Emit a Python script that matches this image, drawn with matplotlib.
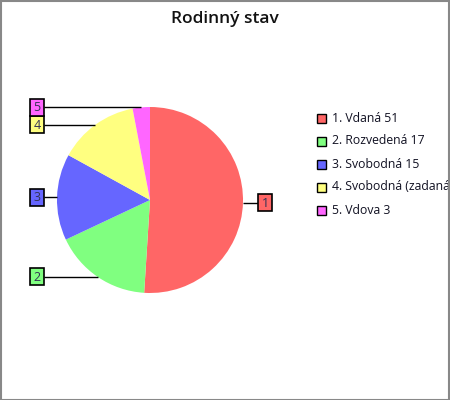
import numpy as np
import matplotlib
matplotlib.use("Agg")
import matplotlib.pyplot as plt
from matplotlib.patches import Rectangle

title = "Rodinný stav"
categories = ["Vdaná", "Rozvedená", "Svobodná", "Svobodná (zadaná)", "Vdova"]
values = [51, 17, 15, 14, 3]
colors = ["#FF6666", "#80FF80", "#6666FF", "#FFFF80", "#FF66FF"]

plt.rcParams['font.family'] = ['Open Sans', 'DejaVu Sans']

W, H = 450, 400
fig = plt.figure(figsize=(W / 100, H / 100), dpi=100)
ax = fig.add_axes([0, 0, 1, 1])

cx, cy, r = 150, 400 - 200, 93
wedges, _ = ax.pie(values, colors=colors, startangle=90, counterclock=False,
                   center=(cx, cy), radius=r,
                   wedgeprops=dict(linewidth=0, antialiased=True))
ax.set_xlim(0, W)
ax.set_ylim(0, H)
ax.set_aspect('equal')
ax.axis('off')

# Title
ax.text(225, 400 - 19, title, ha='center', va='center', fontsize=12.5,
        fontweight='semibold', color='#111111')

# Leader labels
bw, bh = 14, 17
for i, w in enumerate(wedges):
    ang = np.deg2rad((w.theta1 + w.theta2) / 2)
    ex, ey = cx + r * np.cos(ang), cy + r * np.sin(ang)
    if ex >= cx:
        bx = 258
        ax.plot([ex, bx], [ey, ey], color='black', lw=1, solid_capstyle='butt')
    else:
        bx = 30
        ax.plot([bx + bw, ex], [ey, ey], color='black', lw=1, solid_capstyle='butt')
    ax.add_patch(Rectangle((bx, ey - bh / 2), bw, bh, facecolor=colors[i],
                           edgecolor='black', lw=1.2, zorder=5))
    ax.text(bx + bw / 2, ey - 0.5, str(i + 1), ha='center', va='center',
            fontsize=9, color='#333355', zorder=6)

# Legend
clip = Rectangle((0, 0), 446, H, transform=ax.transData, visible=False)
ax.add_patch(clip)
ly0, dy = 400 - 118, 23
for i, (c, v) in enumerate(zip(categories, values)):
    y = ly0 - i * dy
    ax.add_patch(Rectangle((317, y - 4.5), 9, 9, facecolor=colors[i],
                           edgecolor='black', lw=1, zorder=5))
    t = ax.text(332, y, f"{i + 1}. {c} {v}", ha='left', va='center',
                fontsize=8.8, color='#111122')
    t.set_clip_path(clip)

# Border
fig.patches.append(Rectangle((0.5 / W, 0.5 / H), 1 - 1.5 / W, 1 - 1.5 / H,
                             transform=fig.transFigure, fill=False,
                             edgecolor='#888888', lw=1.5, zorder=10))

fig.savefig("out.png", dpi=100)
